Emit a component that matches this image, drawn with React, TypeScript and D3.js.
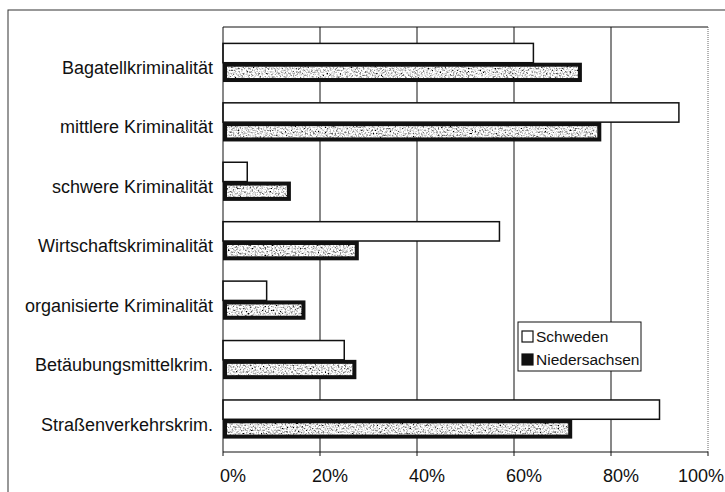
import React from "react";
import * as d3 from "d3";

const categories = [
  "Bagatellkriminalität",
  "mittlere Kriminalität",
  "schwere Kriminalität",
  "Wirtschaftskriminalität",
  "organisierte Kriminalität",
  "Betäubungsmittelkrim.",
  "Straßenverkehrskrim.",
];
const schweden = [64, 94, 5, 57, 9, 25, 90];
const niedersachsen = [74, 78, 14, 28, 17, 27.5, 72];
const xTicks = [0, 20, 40, 60, 80, 100];
const seriesNames = ["Schweden", "Niedersachsen"];

const W = 725;
const H = 492;
const plot = { left: 223, right: 708, top: 27, bottom: 452 };
const font = "'Liberation Sans', Arial, sans-serif";

export default function App() {
  const x = d3.scaleLinear().domain([0, 100]).range([plot.left, plot.right]);
  const y = d3
    .scaleBand<string>()
    .domain(categories)
    .range([plot.top + 6, plot.bottom - 3])
    .paddingInner(0.35)
    .paddingOuter(0.175);
  const bw = y.bandwidth();
  const half = bw / 2;

  return (
    <svg
      width={W}
      height={H}
      style={{ position: "absolute", left: 0, top: 0, background: "#fff" }}
    >
      <defs>
        <filter id="speckle" x="0" y="0" width="100%" height="100%">
          <feTurbulence type="fractalNoise" baseFrequency="0.6" numOctaves="2" seed="7" result="n" />
          <feColorMatrix
            in="n"
            type="matrix"
            values="2.8 0 0 0 -0.6  2.8 0 0 0 -0.6  2.8 0 0 0 -0.6  0 0 0 0 1"
            result="g"
          />
          <feComposite in="g" in2="SourceGraphic" operator="in" />
        </filter>
      </defs>

      {/* outer frame */}
      <rect x={8} y={10} width={W + 20} height={H + 20} fill="#fff" stroke="#333" strokeWidth={1} />

      {/* plot border: top solid, right dotted */}
      <line x1={plot.left} x2={plot.right} y1={plot.top} y2={plot.top} stroke="#111" strokeWidth={1} />
      <line
        x1={plot.right}
        x2={plot.right}
        y1={plot.top}
        y2={plot.bottom}
        stroke="#666"
        strokeWidth={1}
        strokeDasharray="1,1"
      />

      {/* gridlines */}
      {xTicks
        .filter((t) => t > 0 && t < 100)
        .map((t) => (
          <line key={t} x1={x(t)} x2={x(t)} y1={plot.top} y2={plot.bottom} stroke="#111" strokeWidth={1} />
        ))}

      {/* bars */}
      {categories.map((c, i) => {
        const y0 = y(c)!;
        const xs = x(schweden[i]);
        const xn = x(niedersachsen[i]);
        return (
          <g key={c}>
            <rect
              x={x(0)}
              y={y0}
              width={xs - x(0)}
              height={half}
              fill="#fff"
              stroke="#111"
              strokeWidth={1.5}
            />
            <rect x={x(0)} y={y0 + half} width={xn - x(0)} height={half} fill="#111" />
            <rect
              x={x(0) + 4}
              y={y0 + half + 4}
              width={Math.max(0, xn - x(0) - 8)}
              height={half - 8}
              fill="#999"
              filter="url(#speckle)"
            />
          </g>
        );
      })}

      {/* axes */}
      <line x1={plot.left} x2={plot.left} y1={plot.top} y2={plot.bottom} stroke="#111" strokeWidth={1} />
      <line x1={plot.left} x2={plot.right} y1={plot.bottom} y2={plot.bottom} stroke="#111" strokeWidth={1} />
      {xTicks.map((t) => (
        <g key={t}>
          <line x1={x(t)} x2={x(t)} y1={plot.bottom} y2={plot.bottom + 4} stroke="#111" strokeWidth={1} />
          <text
            x={Math.min(x(t) + 10, W - 24)}
            y={482}
            textAnchor="middle"
            fontFamily={font}
            fontSize={18}
            fill="#111"
          >
            {t}%
          </text>
        </g>
      ))}

      {/* category labels */}
      {categories.map((c) => (
        <text
          key={c}
          x={213}
          y={y(c)! + bw / 2 + 5}
          dy="0.35em"
          textAnchor="end"
          fontFamily={font}
          fontSize={18}
          fill="#111"
        >
          {c}
        </text>
      ))}

      {/* legend */}
      <g>
        <rect x={518} y={322} width={123} height={49} fill="#fff" stroke="#111" strokeWidth={1} />
        {seriesNames.map((s, i) => (
          <g key={s} transform={`translate(522, ${337 + i * 23})`}>
            <rect
              x={0}
              y={-6}
              width={11}
              height={11}
              fill={i === 0 ? "#fff" : "#111"}
              stroke="#111"
              strokeWidth={1.2}
            />
            <text x={14} y={0} dy="0.35em" fontFamily={font} fontSize={15.5} fill="#111">
              {s}
            </text>
          </g>
        ))}
      </g>
    </svg>
  );
}
